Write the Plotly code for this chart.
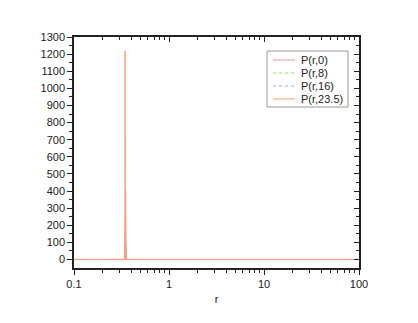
import plotly.graph_objects as go

# r grid (log axis) and curve values
r_0 = [0.1, 0.342, 0.347, 0.350, 0.353, 0.358, 100]
p_0 = [0, 0, 120, 400, 120, 0, 0]

r_8 = [0.1, 0.335, 0.345, 0.355, 100]
p_8 = [0, 0, 6, 0, 0]

r_16 = [0.1, 0.345, 0.355, 0.365, 100]
p_16 = [0, 0, 8, 0, 0]

r_235 = [0.1, 0.341, 0.3435, 0.3445, 0.3455, 0.348, 100]
p_235 = [0, 0, 300, 1220, 300, 0, 0]

series = [
    ("P(r,0)", r_0, p_0, "#f59a9a", "solid"),
    ("P(r,8)", r_8, p_8, "#86f050", "dot"),
    ("P(r,16)", r_16, p_16, "#9aa8f0", "dot"),
    ("P(r,23.5)", r_235, p_235, "#f7a070", "solid"),
]

xticks = [0.1, 1, 10, 100]
xminor = [m * d for d in (0.1, 1, 10) for m in range(2, 10)]
yticks = list(range(0, 1301, 100))
yminor = list(range(50, 1300, 100))

fig = go.Figure()
for name, x, y, color, dash in series:
    fig.add_trace(go.Scatter(x=x, y=y, mode="lines", name=name,
                             line=dict(color=color, width=1, dash=dash),
                             showlegend=False))

# invisible trace to carry top/right tick axes
fig.add_trace(go.Scatter(x=[0.1, 100], y=[0, 0], xaxis="x2", yaxis="y2",
                         mode="lines", line=dict(width=0), showlegend=False,
                         hoverinfo="skip"))

# plot area in figure pixels (page has 8px body margin)
L, T, W, H = 66, 29, 285, 231


def px(x, y):
    return (x - L) / W, (T + H - y) / H


font = dict(family="Liberation Sans, Arial", size=11, color="#222222")
ink = "#222222"

# legend drawn by hand for the tight Origin-style spacing
bx0, by0 = px(259, 43)
bx1, by1 = px(340, 99)
shapes = [dict(type="rect", xref="paper", yref="paper",
               x0=bx0, y0=by1, x1=bx1, y1=by0,
               line=dict(color="#999999", width=1), fillcolor="white")]
annotations = []
for i, (name, x, y, color, dash) in enumerate(series):
    yy = 52 + 13 * i
    lx0, ly = px(265, yy)
    lx1, _ = px(287, yy)
    tx, _ = px(291, yy)
    shapes.append(dict(type="line", xref="paper", yref="paper",
                       x0=lx0, x1=lx1, y0=ly, y1=ly,
                       line=dict(color=color, width=1, dash=dash)))
    annotations.append(dict(text=name, xref="paper", yref="paper",
                            x=tx, y=ly, xanchor="left", yanchor="middle",
                            showarrow=False, font=font))

fig.update_layout(
    width=418, height=323,
    margin=dict(l=L, r=418 - L - W, t=T, b=323 - T - H),
    paper_bgcolor="white", plot_bgcolor="white",
    font=font,
    shapes=shapes,
    annotations=annotations,
    xaxis=dict(type="log", range=[-1, 2], showgrid=False, zeroline=False,
               showline=True, linecolor=ink, linewidth=1.5,
               ticks="outside", ticklen=5, tickwidth=1, tickcolor=ink,
               tickvals=xticks, ticktext=["0.1", "1", "10", "100"],
               minor=dict(ticks="outside", ticklen=3, tickcolor=ink,
                          tickvals=xminor),
               title=dict(text="r", font=font, standoff=6)),
    yaxis=dict(range=[-50, 1300], showgrid=False, zeroline=False,
               showline=True, linecolor=ink, linewidth=1.5,
               ticks="outside", ticklen=5, tickwidth=1, tickcolor=ink,
               tickvals=yticks,
               minor=dict(ticks="outside", ticklen=3, tickcolor=ink,
                          tickvals=yminor)),
    xaxis2=dict(type="log", range=[-1, 2], overlaying="x", side="top",
                showgrid=False, zeroline=False, showline=True,
                linecolor=ink, linewidth=1.5,
                ticks="inside", ticklen=5, tickcolor=ink,
                tickvals=xticks, showticklabels=False,
                minor=dict(ticks="inside", ticklen=3, tickcolor=ink,
                           tickvals=xminor)),
    yaxis2=dict(range=[-50, 1300], overlaying="y", side="right",
                showgrid=False, zeroline=False, showline=True,
                linecolor=ink, linewidth=1.5,
                ticks="inside", ticklen=5, tickcolor=ink,
                tickvals=yticks, showticklabels=False,
                minor=dict(ticks="inside", ticklen=3, tickcolor=ink,
                           tickvals=yminor)),
    showlegend=False,
)

fig.write_html("out.html")
